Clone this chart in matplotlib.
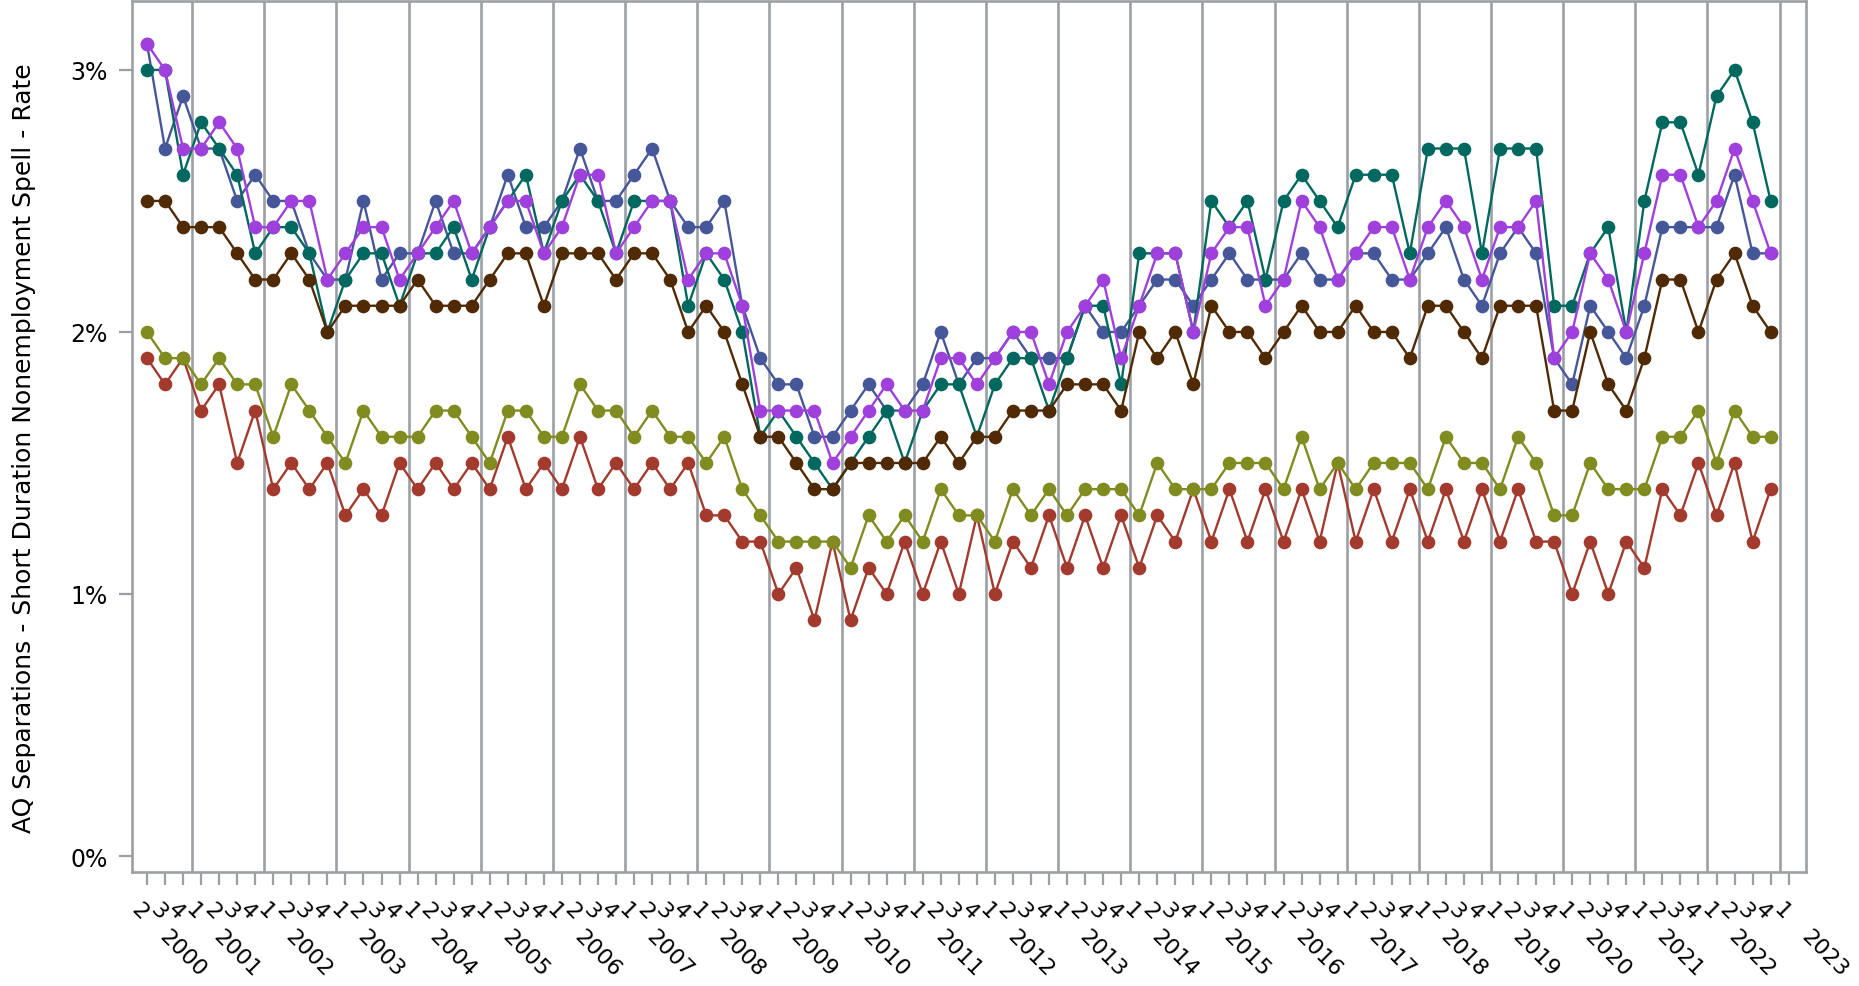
import matplotlib
matplotlib.use("Agg")
import matplotlib.pyplot as plt
import matplotlib.transforms as mtransforms
import numpy as np

# quarterly series, 2000 Q2 .. 2022 Q4, values in percent
RED = [1.9, 1.8, 1.9, 1.7, 1.8, 1.5, 1.7, 1.4, 1.5, 1.4, 1.5, 1.3, 1.4, 1.3, 1.5, 1.4, 1.5, 1.4, 1.5, 1.4, 1.6, 1.4, 1.5, 1.4,
       1.6, 1.4, 1.5, 1.4, 1.5, 1.4, 1.5, 1.3, 1.3, 1.2, 1.2, 1.0, 1.1, 0.9, 1.2, 0.9, 1.1, 1.0, 1.2, 1.0, 1.2, 1.0, 1.3, 1.0,
       1.2, 1.1, 1.3, 1.1, 1.3, 1.1, 1.3, 1.1, 1.3, 1.2, 1.4, 1.2, 1.4, 1.2, 1.4, 1.2, 1.4, 1.2, 1.5, 1.2, 1.4, 1.2, 1.4, 1.2,
       1.4, 1.2, 1.4, 1.2, 1.4, 1.2, 1.2, 1.0, 1.2, 1.0, 1.2, 1.1, 1.4, 1.3, 1.5, 1.3, 1.5, 1.2, 1.4]
OLIVE = [2.0, 1.9, 1.9, 1.8, 1.9, 1.8, 1.8, 1.6, 1.8, 1.7, 1.6, 1.5, 1.7, 1.6, 1.6, 1.6, 1.7, 1.7, 1.6, 1.5, 1.7, 1.7, 1.6, 1.6,
         1.8, 1.7, 1.7, 1.6, 1.7, 1.6, 1.6, 1.5, 1.6, 1.4, 1.3, 1.2, 1.2, 1.2, 1.2, 1.1, 1.3, 1.2, 1.3, 1.2, 1.4, 1.3, 1.3, 1.2,
         1.4, 1.3, 1.4, 1.3, 1.4, 1.4, 1.4, 1.3, 1.5, 1.4, 1.4, 1.4, 1.5, 1.5, 1.5, 1.4, 1.6, 1.4, 1.5, 1.4, 1.5, 1.5, 1.5, 1.4,
         1.6, 1.5, 1.5, 1.4, 1.6, 1.5, 1.3, 1.3, 1.5, 1.4, 1.4, 1.4, 1.6, 1.6, 1.7, 1.5, 1.7, 1.6, 1.6]
BROWN = [2.5, 2.5, 2.4, 2.4, 2.4, 2.3, 2.2, 2.2, 2.3, 2.2, 2.0, 2.1, 2.1, 2.1, 2.1, 2.2, 2.1, 2.1, 2.1, 2.2, 2.3, 2.3, 2.1, 2.3,
         2.3, 2.3, 2.2, 2.3, 2.3, 2.2, 2.0, 2.1, 2.0, 1.8, 1.6, 1.6, 1.5, 1.4, 1.4, 1.5, 1.5, 1.5, 1.5, 1.5, 1.6, 1.5, 1.6, 1.6,
         1.7, 1.7, 1.7, 1.8, 1.8, 1.8, 1.7, 2.0, 1.9, 2.0, 1.8, 2.1, 2.0, 2.0, 1.9, 2.0, 2.1, 2.0, 2.0, 2.1, 2.0, 2.0, 1.9, 2.1,
         2.1, 2.0, 1.9, 2.1, 2.1, 2.1, 1.7, 1.7, 2.0, 1.8, 1.7, 1.9, 2.2, 2.2, 2.0, 2.2, 2.3, 2.1, 2.0]
TEAL = [3.0, 3.0, 2.6, 2.8, 2.7, 2.6, 2.3, 2.4, 2.4, 2.3, 2.0, 2.2, 2.3, 2.3, 2.1, 2.3, 2.3, 2.4, 2.2, 2.4, 2.5, 2.6, 2.3, 2.5,
        2.6, 2.5, 2.3, 2.5, 2.5, 2.5, 2.1, 2.3, 2.2, 2.0, 1.6, 1.7, 1.6, 1.5, 1.4, 1.5, 1.6, 1.7, 1.5, 1.7, 1.8, 1.8, 1.6, 1.8,
        1.9, 1.9, 1.7, 1.9, 2.1, 2.1, 1.8, 2.3, 2.3, 2.3, 2.0, 2.5, 2.4, 2.5, 2.2, 2.5, 2.6, 2.5, 2.4, 2.6, 2.6, 2.6, 2.3, 2.7,
        2.7, 2.7, 2.3, 2.7, 2.7, 2.7, 2.1, 2.1, 2.3, 2.4, 2.0, 2.5, 2.8, 2.8, 2.6, 2.9, 3.0, 2.8, 2.5]
BLUE = [3.1, 2.7, 2.9, 2.7, 2.7, 2.5, 2.6, 2.5, 2.5, 2.3, 2.2, 2.2, 2.5, 2.2, 2.3, 2.3, 2.5, 2.3, 2.3, 2.4, 2.6, 2.4, 2.4, 2.5,
        2.7, 2.5, 2.5, 2.6, 2.7, 2.5, 2.4, 2.4, 2.5, 2.1, 1.9, 1.8, 1.8, 1.6, 1.6, 1.7, 1.8, 1.7, 1.7, 1.8, 2.0, 1.8, 1.9, 1.9,
        2.0, 1.9, 1.9, 1.9, 2.1, 2.0, 2.0, 2.1, 2.2, 2.2, 2.1, 2.2, 2.3, 2.2, 2.2, 2.2, 2.3, 2.2, 2.2, 2.3, 2.3, 2.2, 2.2, 2.3,
        2.4, 2.2, 2.1, 2.3, 2.4, 2.3, 1.9, 1.8, 2.1, 2.0, 1.9, 2.1, 2.4, 2.4, 2.4, 2.4, 2.6, 2.3, 2.3]
PURPLE = [3.1, 3.0, 2.7, 2.7, 2.8, 2.7, 2.4, 2.4, 2.5, 2.5, 2.2, 2.3, 2.4, 2.4, 2.2, 2.3, 2.4, 2.5, 2.3, 2.4, 2.5, 2.5, 2.3, 2.4,
          2.6, 2.6, 2.3, 2.4, 2.5, 2.5, 2.2, 2.3, 2.3, 2.1, 1.7, 1.7, 1.7, 1.7, 1.5, 1.6, 1.7, 1.8, 1.7, 1.7, 1.9, 1.9, 1.8, 1.9,
          2.0, 2.0, 1.8, 2.0, 2.1, 2.2, 1.9, 2.1, 2.3, 2.3, 2.0, 2.3, 2.4, 2.4, 2.1, 2.2, 2.5, 2.4, 2.2, 2.3, 2.4, 2.4, 2.2, 2.4,
          2.5, 2.4, 2.2, 2.4, 2.4, 2.5, 1.9, 2.0, 2.3, 2.2, 2.0, 2.3, 2.6, 2.6, 2.4, 2.5, 2.7, 2.5, 2.3]

YEARS = list(range(2000, 2024))
QUARTER_LABELS = ["2", "3", "4"] + ["1", "2", "3", "4"] * 22 + ["1"]  # 2000 Q2 .. 2023 Q1
Y_TICKS = [0, 1, 2, 3]
Y_LABEL = "AQ Separations - Short Duration Nonemployment Spell - Rate"

GRID = "#9ca0a5"

# bottom -> top drawing order
SERIES = [
    (RED, "#a33a2e"),
    (OLIVE, "#808c20"),
    (BLUE, "#465799"),
    (TEAL, "#00685e"),
    (BROWN, "#502a05"),
    (PURPLE, "#a040dc"),
]

W, H = 1859, 987
fig = plt.figure(figsize=(W / 100, H / 100), dpi=100)
ax = fig.add_axes([132 / W, 1 - 873 / H, (1806 - 132) / W, (873 - 2) / H])

x = np.arange(len(RED))
for z, (vals, color) in enumerate(SERIES):
    ax.plot(x, vals, color=color, lw=1.7, marker="o", ms=8.8, zorder=3 + z)

# year separators
year_start = [0] + [3 + 4 * (y - 2001) for y in YEARS[1:]]
for s in year_start[1:]:
    ax.axvline(s - 0.5, color=GRID, lw=1.9, zorder=1)

ax.set_xlim(-0.83, 91.96)
ax.set_ylim(-0.061, 3.263)

for sp in ax.spines.values():
    sp.set_color(GRID)
    sp.set_linewidth(1.9)

ax.set_yticks(Y_TICKS, [f"{v}%" for v in Y_TICKS])
ax.set_xticks(np.arange(len(QUARTER_LABELS)), [])
ax.tick_params(axis="both", length=9.4, width=1.6, color=GRID)
ax.tick_params(axis="y", pad=8, labelsize=17)


def offset(dx, dy):
    # pixel offset from the bottom of the axes at a data x position
    return ax.get_xaxis_transform() + mtransforms.ScaledTranslation(dx / 100, -dy / 100, fig.dpi_scale_trans)


for i, lab in enumerate(QUARTER_LABELS):
    ax.text(i, 0, lab, transform=offset(-7, 39), rotation=-45, rotation_mode="anchor",
            ha="center", va="center", fontsize=16)

for yr, s in zip(YEARS, year_start):
    ax.text(s, 0, str(yr), transform=offset(35.5, 80.5), rotation=-45, rotation_mode="anchor",
            ha="center", va="center", fontsize=16)

fig.text(24 / W, 1 - 448 / H, Y_LABEL, rotation=90, ha="center", va="center", fontsize=18)

fig.savefig("out.png", dpi=100)
